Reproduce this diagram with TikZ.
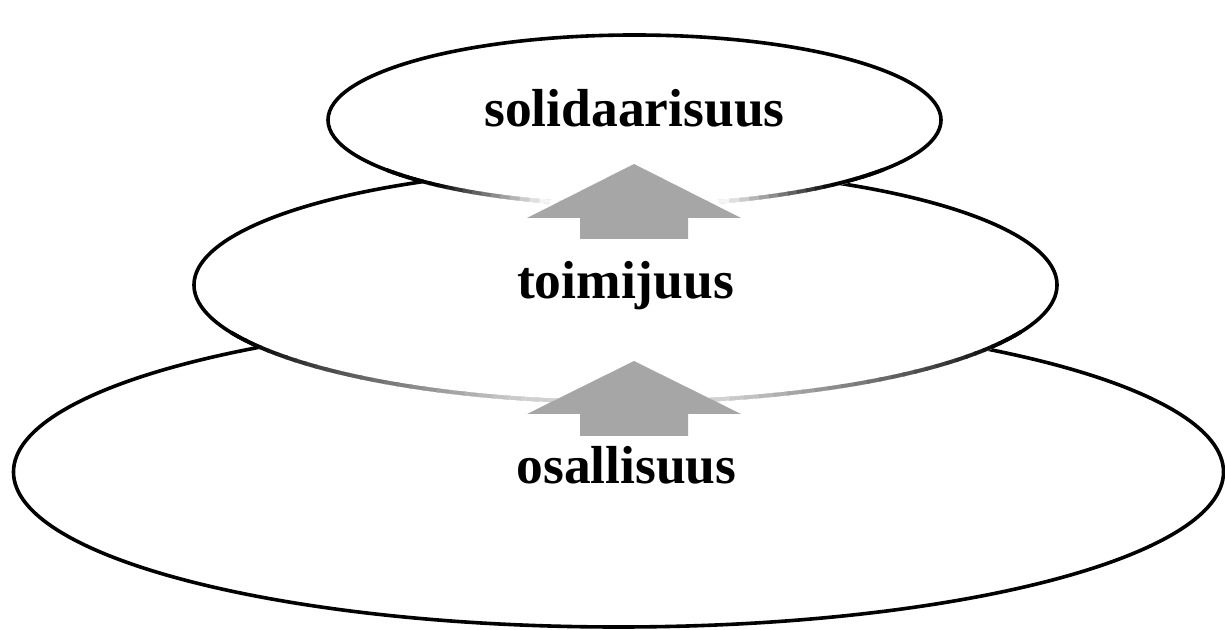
\documentclass[tikz,border=0pt]{standalone}
\usepackage{fontspec}
\setmainfont{Liberation Serif}
\usetikzlibrary{shapes.geometric,calc}
\definecolor{arrowgray}{HTML}{A6A6A6}
\begin{document}
\begin{tikzpicture}[x=1pt,y=1pt,
  layer/.style={ellipse, draw=black, fill=white, line width=3.6pt, inner sep=0pt},
  lbl/.style={font=\fontsize{53.5}{60}\selectfont\bfseries, anchor=base, inner sep=0pt},
  blockarrow/.style={fill=arrowgray, draw=none}]
\useasboundingbox (0,0) rectangle (1225,629);
% bottom layer
\node[layer, minimum width=1210pt, minimum height=310pt] (osa) at (618.5,157) {};
% middle layer
\node[layer, minimum width=863pt, minimum height=234pt] (toi) at (625.5,344) {};
\draw[line width=4.2pt, white] ($(toi.center)+(212:431.5pt and 117pt)$)
    arc[start angle=212, end angle=328, x radius=431.5pt, y radius=117pt];
\foreach \a in {204,206,...,334}{
  \pgfmathsetmacro\d{abs(\a+1-270)}
  \pgfmathtruncatemacro\p{18+82*min(1,max(0,(\d-13)/47))}
  \draw[line width=3.9pt, draw=black!\p!white]
    ($(toi.center)+(\a:431.5pt and 117pt)$)
    arc[start angle=\a, end angle=\a+2.4, x radius=431.5pt, y radius=117pt];
}
% top layer
\node[layer, minimum width=613pt, minimum height=170pt] (sol) at (634.5,509) {};
\draw[line width=4.2pt, white] ($(sol.center)+(226:306.5pt and 85pt)$)
    arc[start angle=226, end angle=314, x radius=306.5pt, y radius=85pt];
\foreach \a in {216,218,...,322}{
  \pgfmathsetmacro\d{abs(\a+1-270)}
  \pgfmathtruncatemacro\p{100*min(1,max(0,(\d-16)/24))}
  \draw[line width=3.9pt, draw=black!\p!white]
    ($(sol.center)+(\a:306.5pt and 85pt)$)
    arc[start angle=\a, end angle=\a+2.4, x radius=306.5pt, y radius=85pt];
}
% block arrows
\fill[blockarrow] (634,465) -- (741,411) -- (688,411) -- (688,390) -- (580,390) -- (580,411) -- (527,411) -- cycle;
\fill[blockarrow] (634,268) -- (741,215) -- (688,215) -- (688,193) -- (580,193) -- (580,215) -- (527,215) -- cycle;
% labels
\node[lbl] (tsol) at (634.5,502) {solidaarisuus};
\node[lbl] (ttoi) at (625.5,330) {toimijuus};
\node[lbl] (tosa) at (626.5,145) {osallisuus};
\end{tikzpicture}
\end{document}
